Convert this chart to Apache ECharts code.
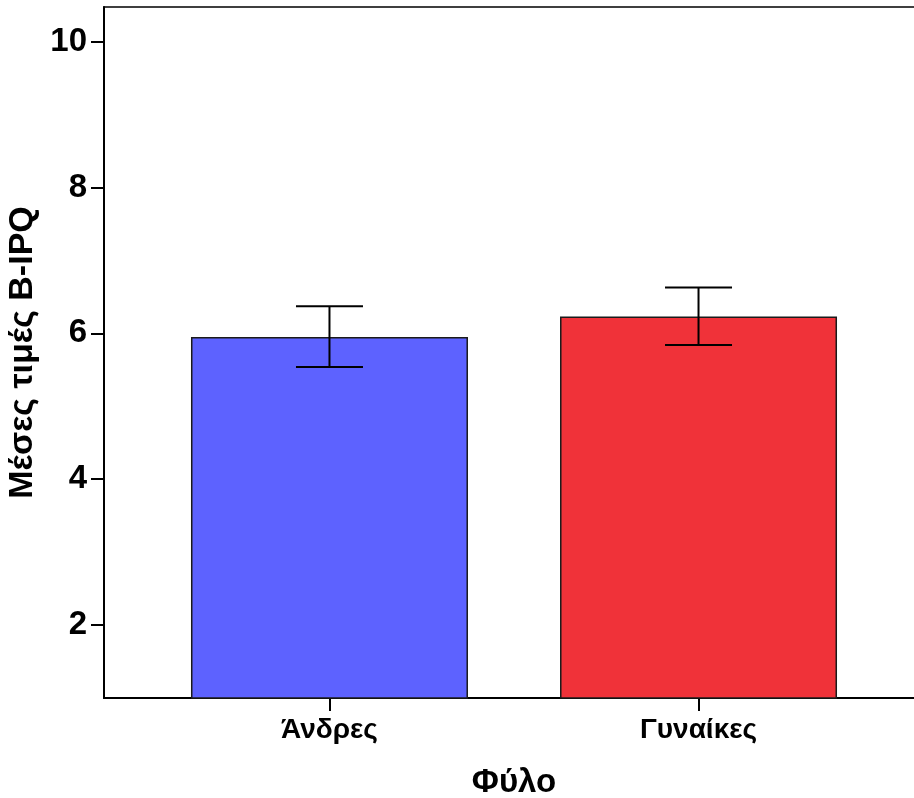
<!DOCTYPE html>
<html>
<head>
<meta charset="utf-8">
<script src="https://cdn.jsdelivr.net/npm/echarts@6/dist/echarts.min.js"></script>
<style>html,body{margin:0;padding:0;background:#fff;}#c{width:914px;height:798px;}</style>
</head>
<body>
<div id="c"></div>
<script>
const categories = ['Άνδρες', 'Γυναίκες'];
const categoryPos = [1, 2];
const means = [5.95, 6.23];
const lowerCI = [5.54, 5.84];
const upperCI = [6.37, 6.63];
const barColors = ['#5d62ff', '#f03239'];
const yTicks = [2, 4, 6, 8, 10];

const FONT = '"Liberation Sans", Arial, sans-serif';
const chart = echarts.init(document.getElementById('c'), null, {renderer: 'canvas'});

const option = {
  animation: false,
  backgroundColor: '#ffffff',
  grid: {left: 104, right: -10, top: 7, bottom: 100, containLabel: false, outerBoundsMode: 'none',
    show: true, borderColor: '#000', borderWidth: 1.5, backgroundColor: 'transparent'},
  xAxis: {
    type: 'value',
    min: 0.389, max: 2.611,
    name: 'Φύλο', nameLocation: 'middle', nameGap: 68,
    nameTextStyle: {fontFamily: FONT, fontWeight: 'bold', fontSize: 33, color: '#000'},
    splitLine: {show: false},
    axisLine: {show: true, lineStyle: {color: '#000', width: 2}},
    axisTick: {show: true, customValues: categoryPos, length: 13, lineStyle: {color: '#000', width: 2}},
    axisLabel: {customValues: categoryPos, margin: 18, fontFamily: FONT, fontWeight: 'bold', fontSize: 28, color: '#000',
      formatter: v => categories[categoryPos.indexOf(Math.round(v))] || ''}
  },
  yAxis: {
    type: 'value',
    min: 1, max: 10.475,
    name: 'Μέσες τιμές B-IPQ', nameLocation: 'middle', nameGap: 64,
    nameTextStyle: {fontFamily: FONT, fontWeight: 'bold', fontSize: 34, color: '#000'},
    splitLine: {show: false},
    axisLine: {show: true, lineStyle: {color: '#000', width: 2}},
    axisTick: {show: true, customValues: yTicks, length: 13, lineStyle: {color: '#000', width: 2}},
    axisLabel: {customValues: yTicks, margin: 17, fontFamily: FONT, fontWeight: 'bold', fontSize: 33, color: '#000'}
  },
  series: [
    {
      type: 'bar',
      clip: true,
      barWidth: 277,
      data: categoryPos.map((x, i) => ({value: [x, means[i]], itemStyle: {color: barColors[i], borderColor: '#1a1a1a', borderWidth: 1.5}}))
    },
    {
      type: 'custom',
      data: categoryPos.map((x, i) => [x, lowerCI[i], upperCI[i]]),
      renderItem: function (params, api) {
        const lo = api.coord([api.value(0), api.value(1)]);
        const hi = api.coord([api.value(0), api.value(2)]);
        const hw = 33.5;
        const st = {stroke: '#000', lineWidth: 2};
        return {type: 'group', children: [
          {type: 'line', shape: {x1: lo[0], y1: lo[1], x2: hi[0], y2: hi[1]}, style: st},
          {type: 'line', shape: {x1: hi[0] - hw, y1: hi[1], x2: hi[0] + hw, y2: hi[1]}, style: st},
          {type: 'line', shape: {x1: lo[0] - hw, y1: lo[1], x2: lo[0] + hw, y2: lo[1]}, style: st}
        ]};
      },
      z: 5
    }
  ]
};
chart.setOption(option);
</script>
</body>
</html>
